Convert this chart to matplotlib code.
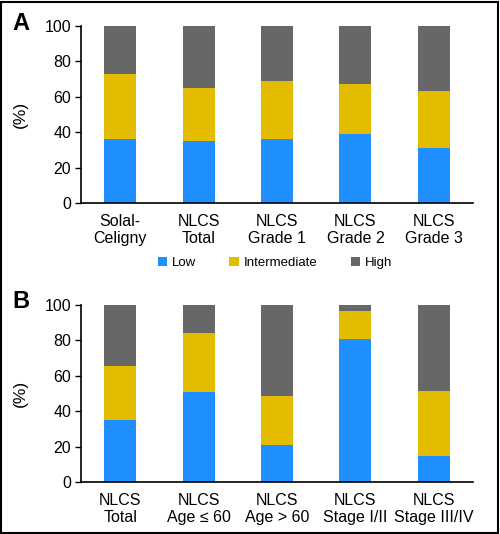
import numpy as np
import matplotlib
matplotlib.use("Agg")
import matplotlib.pyplot as plt
from matplotlib.patches import Rectangle

plt.rcParams['font.family'] = ['Liberation Sans', 'DejaVu Sans']

# data (percent)
cats_a = ['Solal-\nCeligny', 'NLCS\nTotal', 'NLCS\nGrade 1', 'NLCS\nGrade 2', 'NLCS\nGrade 3']
low_a = [36, 35, 36, 39, 31]
inter_a = [37, 30, 33, 28, 32]

cats_b = ['NLCS\nTotal', 'NLCS\nAge \u2264 60', 'NLCS\nAge > 60', 'NLCS\nStage I/II', 'NLCS\nStage III/IV']
low_b = [35, 51, 21, 81, 14.5]
inter_b = [30.5, 33, 27.5, 15.5, 37]

series = ['Low', 'Intermediate', 'High']
colors = ['#1f8fff', '#e3bc00', '#676767']

fig = plt.figure(figsize=(5.0, 5.34), dpi=100)

def panel(ax, cats, low, inter):
    x = np.arange(len(cats))
    low = np.array(low, dtype=float)
    inter = np.array(inter, dtype=float)
    high = 100 - low - inter
    w = 0.41
    ax.bar(x, low, w, color=colors[0], label=series[0])
    ax.bar(x, inter, w, bottom=low, color=colors[1], label=series[1])
    ax.bar(x, high, w, bottom=low + inter, color=colors[2], label=series[2])
    ax.set_xlim(-0.5, len(cats) - 0.5)
    ax.set_ylim(0, 100)
    ax.set_yticks([0, 20, 40, 60, 80, 100])
    ax.set_xticks(x)
    ax.set_xticklabels(cats, fontsize=11.5, linespacing=1.15)
    ax.tick_params(axis='y', labelsize=11.5, length=4, width=1, pad=3)
    ax.tick_params(axis='x', length=0, pad=8)
    ax.spines['top'].set_visible(False)
    ax.spines['right'].set_visible(False)
    ax.spines['left'].set_linewidth(1.2)
    ax.spines['bottom'].set_linewidth(1.2)
    ax.set_ylabel('(%)', fontsize=12.5, labelpad=12)

# figure coords: x 81..473 px, y panels A 26..203, B 305..482
ax1 = fig.add_axes([81/500, 1 - 203/534, 392/500, 177/534])
panel(ax1, cats_a, low_a, inter_a)
ax2 = fig.add_axes([81/500, 1 - 482/534, 392/500, 177/534])
panel(ax2, cats_b, low_b, inter_b)

fig.text(12/500, 1 - 24/534, 'A', fontsize=17, fontweight='bold', va='center', ha='left')
fig.text(12/500, 1 - 302/534, 'B', fontsize=17, fontweight='bold', va='center', ha='left')

h, l = ax1.get_legend_handles_labels()
fig.legend(h, l, loc='center', bbox_to_anchor=(275/500, 1 - 263/534), ncol=3,
           frameon=False, fontsize=9.5, handlelength=0.75, handleheight=0.75,
           handletextpad=0.35, columnspacing=2.5)

fig.patches.append(Rectangle((0.002, 0.002), 0.994, 0.995, transform=fig.transFigure,
                             fill=False, edgecolor='black', linewidth=1.5))

fig.savefig('out.png', dpi=100)
